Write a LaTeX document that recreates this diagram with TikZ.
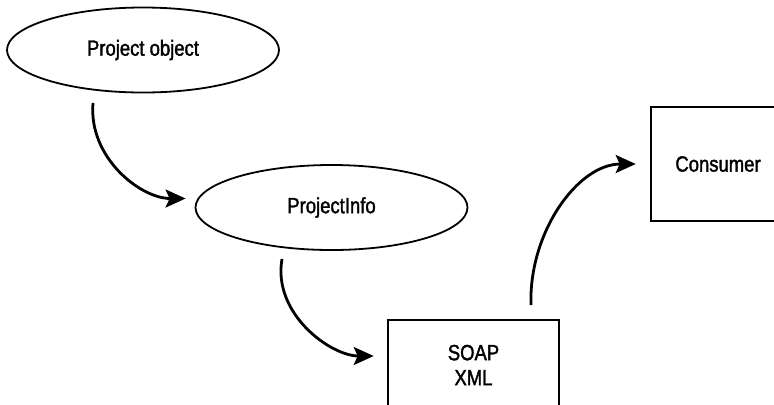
\documentclass[tikz,border=0pt]{standalone}
\usepackage{fontspec}
\setmainfont{Liberation Sans}[FakeStretch=0.84,FakeBold=1.6]
\usepackage{tikz}
\usetikzlibrary{positioning,arrows.meta,shapes.geometric}

\begin{document}
\begin{tikzpicture}[
      x=0.5pt,y=0.5pt,
      >={Stealth[length=10pt,width=9pt,inset=2pt]},
      every node/.style={font=\fontsize{11}{12.5}\selectfont},
      obj/.style={draw=black,line width=0.9pt,ellipse,minimum width=136pt,minimum height=42.5pt,inner sep=0pt},
      boxnode/.style={draw=black,line width=1.3pt,rectangle,inner sep=0pt,align=center},
      flow/.style={draw=black,line width=1.4pt,->}
    ]
    \clip (0,0) rectangle (774,404);
    % objects
    \node[obj] (pobj) at (143,354) {Project object};
    \node[obj] (pinfo) at (331.5,196.5) {ProjectInfo};
    % boxes
    \node[boxnode,minimum width=85.5pt,minimum height=45pt] (soap) at (473.5,39) {SOAP\\XML};
    \node[boxnode,minimum width=67pt,minimum height=57pt] (cons) at (718,240) {Consumer};
    % free ends of the connectors
    \coordinate (s1) at (93,301);
    \coordinate (s2) at (282,145);
    \coordinate (s3) at (531,99);
    % connectors
    \draw[flow,shorten >=4.5pt] (s1) to[out=-95,in=180] ([yshift=4.5pt]pinfo.west);
    \draw[flow,shorten >=6.5pt] (s2) to[out=-100,in=180] ([yshift=4.5pt]soap.west);
    \draw[flow,shorten >=7pt] (s3) to[out=92,in=180] (cons.west);
  \end{tikzpicture}
\end{document}
